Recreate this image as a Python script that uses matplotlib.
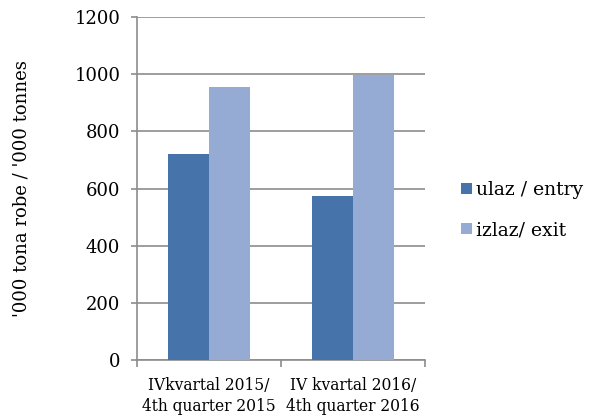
import matplotlib
matplotlib.use("Agg")
import matplotlib.pyplot as plt
import numpy as np

categories = ["IVkvartal 2015/\n4th quarter 2015", "IV kvartal 2016/\n4th quarter 2016"]
series_names = ["ulaz / entry", "izlaz/ exit"]
entry = [722, 575]
exit_ = [955, 998]
colors = ["#4674aa", "#95abd4"]

plt.rcParams["font.family"] = ["DejaVu Serif"]

fig = plt.figure(figsize=(5.9, 4.16), dpi=100)
ax = fig.add_axes([137 / 590, 56 / 416, 288 / 590, 343 / 416])

x = np.arange(len(categories))
w = 0.285
ax.bar(x - w / 2, entry, w, color=colors[0], label=series_names[0], zorder=3)
ax.bar(x + w / 2, exit_, w, color=colors[1], label=series_names[1], zorder=3)

ax.set_xlim(-0.5, 1.5)
ax.set_ylim(0, 1200)
ax.set_yticks(range(0, 1201, 200))
ax.yaxis.grid(True, color="#8c8c8c", linewidth=1.2, zorder=0)
for s in ["top", "right"]:
    ax.spines[s].set_visible(False)
for s in ["left", "bottom"]:
    ax.spines[s].set_color("#8c8c8c")
    ax.spines[s].set_linewidth(1.2)

ax.set_xticks([-0.5, 0.5, 1.5])
ax.set_xticklabels([])
ax.set_xticks(x, minor=True)
ax.set_xticklabels(categories, minor=True, fontsize=11.2, linespacing=1.3)
ax.tick_params(axis="x", which="minor", length=0, pad=12)
ax.tick_params(axis="x", which="major", length=5, color="#8c8c8c", width=1.2)
ax.tick_params(axis="y", length=4, color="#8c8c8c", width=1.2, labelsize=13, pad=8)

ax.set_ylabel("'000 tona robe / '000 tonnes", fontsize=13)
ax.yaxis.set_label_coords(-0.37, 0.5)

ax.legend(loc="center left", bbox_to_anchor=(1.1, 0.437), frameon=False,
          fontsize=13.5, handlelength=0.55, handleheight=0.55, handletextpad=0.25,
          labelspacing=1.2, borderaxespad=0)

fig.savefig("out.png", dpi=100)
